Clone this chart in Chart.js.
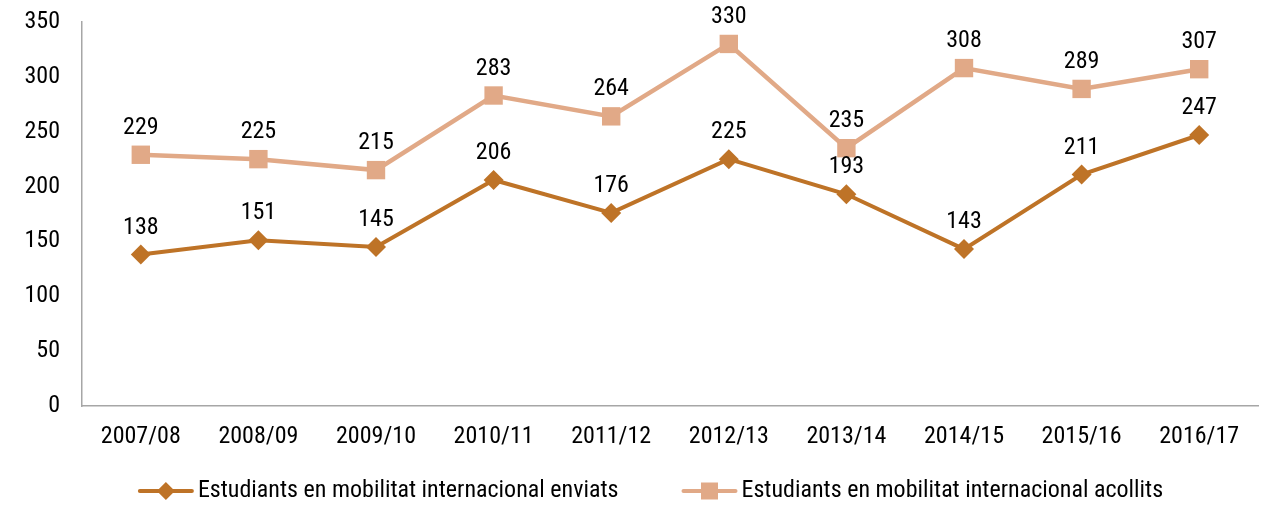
<!DOCTYPE html>
<html>
<head>
<meta charset="utf-8">
<script src="https://cdn.jsdelivr.net/npm/chart.js@4.4.1/dist/chart.umd.min.js"></script>
<style>
  html, body { margin: 0; padding: 0; background: #fff; }
  #wrap { width: 1271px; height: 507px; }
</style>
</head>
<body>
<div id="wrap"><canvas id="c" width="1271" height="507"></canvas></div>
<script>
const categories = ['2007/08','2008/09','2009/10','2010/11','2011/12','2012/13','2013/14','2014/15','2015/16','2016/17'];
const enviats = [138, 151, 145, 206, 176, 225, 193, 143, 211, 247];
const acollits = [229, 225, 215, 283, 264, 330, 235, 308, 289, 307];
const seriesNames = ['Estudiants en mobilitat internacional enviats', 'Estudiants en mobilitat internacional acollits'];
const yTicks = [0, 50, 100, 150, 200, 250, 300, 350];

// pick the first installed condensed font
function pickFont(cands) {
  const c = document.createElement('canvas').getContext('2d');
  const s = 'Estudiants mobilitat 2007/08 0123456789';
  for (const f of cands) {
    for (const base of ['monospace', 'serif']) {
      c.font = '40px ' + base; const w0 = c.measureText(s).width;
      c.font = "40px '" + f + "', " + base; const w1 = c.measureText(s).width;
      if (Math.abs(w1 - w0) > 0.5) return f;
    }
  }
  return null;
}
const picked = pickFont(['Liberation Sans Narrow', 'Arial Narrow', 'Roboto Condensed', 'Nimbus Sans Narrow', 'DejaVu Sans Condensed']);
const FONT = (picked ? "'" + picked + "', " : '') + "'DejaVu Sans Condensed', sans-serif";
const FS = (picked === 'DejaVu Sans Condensed' || !picked) ? 22 : 24;
const DARK = '#BE7327';
const LIGHT = '#E1A987';

const dataLabels = {
  id: 'dataLabels',
  afterDatasetsDraw(chart) {
    const ctx = chart.ctx;
    ctx.save();
    ctx.font = FS + 'px ' + FONT;
    ctx.fillStyle = '#000';
    ctx.textAlign = 'center';
    ctx.textBaseline = 'middle';
    chart.data.datasets.forEach((ds, di) => {
      const meta = chart.getDatasetMeta(di);
      meta.data.forEach((pt, i) => {
        ctx.fillText(String(ds.data[i]), pt.x, pt.y - 27);
      });
    });
    ctx.restore();
  }
};

function drawMarker(ctx, style, x, y, r, color) {
  ctx.fillStyle = color;
  ctx.beginPath();
  if (style === 'rectRot') {
    ctx.moveTo(x, y - r); ctx.lineTo(x + r, y); ctx.lineTo(x, y + r); ctx.lineTo(x - r, y);
  } else {
    ctx.rect(x - r, y - r, 2 * r, 2 * r);
  }
  ctx.closePath();
  ctx.fill();
}

const customLegend = {
  id: 'customLegend',
  afterDraw(chart) {
    const ctx = chart.ctx;
    ctx.save();
    ctx.font = FS + 'px ' + FONT;
    const lineLen = 56, gapText = 4, gapItems = 63;
    const items = chart.data.datasets.map(ds => ({
      label: ds.label, color: ds.borderColor, style: ds.pointStyle,
      mr: ds.pointStyle === 'rectRot' ? 9 : 8.5,
      w: lineLen + gapText + ctx.measureText(ds.label).width
    }));
    const total = items.reduce((s, it) => s + it.w, 0) + gapItems * (items.length - 1);
    let x = (chart.width - total) / 2 + 15;
    const y = 491;
    items.forEach(it => {
      ctx.strokeStyle = it.color;
      ctx.lineWidth = 4;
      ctx.lineCap = 'round';
      ctx.beginPath();
      ctx.moveTo(x + 2, y); ctx.lineTo(x + lineLen - 2, y);
      ctx.stroke();
      drawMarker(ctx, it.style, x + lineLen / 2, y, it.mr, it.color);
      ctx.fillStyle = '#000';
      ctx.textAlign = 'left';
      ctx.textBaseline = 'middle';
      ctx.fillText(it.label, x + lineLen + gapText, y);
      x += it.w + gapItems;
    });
    ctx.restore();
  }
};

new Chart(document.getElementById('c'), {
  type: 'line',
  data: {
    labels: categories,
    datasets: [
      {
        label: seriesNames[0],
        data: enviats,
        borderColor: DARK,
        backgroundColor: DARK,
        borderWidth: 4,
        pointStyle: 'rectRot',
        pointRadius: 10,
        pointHoverRadius: 10,
        pointBorderWidth: 0,
        tension: 0
      },
      {
        label: seriesNames[1],
        data: acollits,
        borderColor: LIGHT,
        backgroundColor: LIGHT,
        borderWidth: 4.5,
        pointStyle: 'rect',
        pointRadius: 13,
        pointHoverRadius: 13,
        pointBorderWidth: 0,
        tension: 0
      }
    ]
  },
  options: {
    responsive: false,
    devicePixelRatio: 1,
    animation: false,
    layout: { padding: { top: 22, right: 12, bottom: 0, left: 0 } },
    plugins: {
      legend: { display: false },
      tooltip: { enabled: false }
    },
    scales: {
      x: {
        offset: true,
        grid: { display: false, drawTicks: false, offset: true },
        border: { display: true, color: '#a6a6a6', width: 1.5 },
        ticks: { color: '#000', font: { family: FONT, size: FS }, padding: 17, maxRotation: 0, autoSkip: false },
        afterFit(scale) { scale.height = 101; scale.paddingLeft = 0; scale.paddingRight = 0; }
      },
      y: {
        min: 0,
        max: 350,
        afterBuildTicks(scale) { scale.ticks = yTicks.map(v => ({ value: v })); },
        grid: { display: false, drawTicks: false },
        border: { display: true, color: '#a6a6a6', width: 1.5 },
        ticks: { color: '#000', font: { family: FONT, size: FS }, padding: 22 },
        afterFit(scale) { scale.width = 82; scale.paddingTop = 0; scale.paddingBottom = 0; }
      }
    }
  },
  plugins: [dataLabels, customLegend]
});
</script>
</body>
</html>
